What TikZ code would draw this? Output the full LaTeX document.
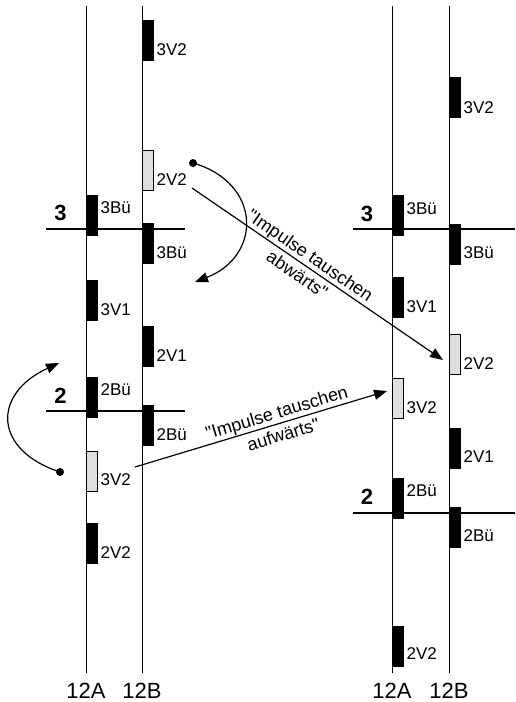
\documentclass[tikz,border=0pt]{standalone}
\usepackage{fontspec}
\setmainfont{Liberation Sans}[Ligatures=TeXOff]
\usetikzlibrary{arrows.meta}
\begin{document}
\begin{tikzpicture}[x=1pt,y=-1pt,
  rail/.style={line width=0.9pt},
  bar/.style={line width=2pt},
  blk/.style={draw=black, fill=black, line width=0.6pt, minimum width=11.5pt, minimum height=40pt, inner sep=0pt, outer sep=0pt, anchor=north west},
  gblk/.style={blk, fill=black!13},
  lbl/.style={font=\fontsize{17}{20}\selectfont, inner sep=0pt, anchor=base west},
  big/.style={font=\fontsize{22}{26}\selectfont, inner sep=0pt, anchor=base},
  num/.style={font=\bfseries\fontsize{22}{26}\selectfont, inner sep=0pt, anchor=base},
  arr/.style={line width=1.2pt, -{Triangle[length=13pt,width=10pt]}},
  note/.style={font=\fontsize{18}{23}\selectfont, align=center, inner sep=0pt},
]
\useasboundingbox (0,0) rectangle (515,702);

% ---------------- left diagram ----------------
\coordinate (lAt) at (86,6);  \coordinate (lAb) at (86,673);
\coordinate (lBt) at (142,6); \coordinate (lBb) at (142,673);
\draw[rail] (lAt) -- (lAb);
\draw[rail] (lBt) -- (lBb);
\coordinate (l3s) at (46,229); \coordinate (l3e) at (185,229);
\coordinate (l2s) at (46,411); \coordinate (l2e) at (185,411);
\draw[bar] (l3s) -- (l3e);
\draw[bar] (l2s) -- (l2e);
\node[num] (lN3) at (60.5,220) {3};
\node[num] (lN2) at (60.5,403) {2};

\node[blk]  (lB3V2) at (142,20) {};   \node[lbl] (tlB3V2) at (156.5,55) {3V2};
\node[gblk] (lB2V2) at (142,150) {};  \node[lbl] (tlB2V2) at (156.5,185) {2V2};
\node[blk]  (lA3Bu) at (86,195) {};   \node[lbl] (tlA3Bu) at (100.5,213) {3Bü};
\node[blk]  (lB3Bu) at (142,223) {};  \node[lbl] (tlB3Bu) at (156.5,258) {3Bü};
\node[blk]  (lA3V1) at (86,280) {};   \node[lbl] (tlA3V1) at (100.5,315) {3V1};
\node[blk]  (lB2V1) at (142,326) {};  \node[lbl] (tlB2V1) at (156.5,361) {2V1};
\node[blk]  (lA2Bu) at (86,377) {};   \node[lbl] (tlA2Bu) at (100.5,395) {2Bü};
\node[blk]  (lB2Bu) at (142,405) {};  \node[lbl] (tlB2Bu) at (156.5,440) {2Bü};
\node[gblk] (lA3V2) at (86,451) {};   \node[lbl] (tlA3V2) at (100.5,485) {3V2};
\node[blk]  (lA2V2) at (86,523) {};   \node[lbl] (tlA2V2) at (100.5,558) {2V2};

\node[big] (l12A) at (86,698) {12A};
\node[big] (l12B) at (142,698) {12B};

% ---------------- right diagram ----------------
\coordinate (rAt) at (392,6);  \coordinate (rAb) at (392,673);
\coordinate (rBt) at (449,6);  \coordinate (rBb) at (449,673);
\draw[rail] (rAt) -- (rAb);
\draw[rail] (rBt) -- (rBb);
\coordinate (r3s) at (353,229); \coordinate (r3e) at (515,229);
\coordinate (r2s) at (353,513); \coordinate (r2e) at (515,513);
\draw[bar] (r3s) -- (r3e);
\draw[bar] (r2s) -- (r2e);
\node[num] (rN3) at (367,221) {3};
\node[num] (rN2) at (367,504) {2};

\node[blk]  (rB3V2) at (449,77) {};   \node[lbl] (trB3V2) at (463.5,113) {3V2};
\node[blk]  (rA3Bu) at (392,195) {};  \node[lbl] (trA3Bu) at (406.5,214) {3Bü};
\node[blk]  (rB3Bu) at (449,224) {};  \node[lbl] (trB3Bu) at (463.5,258) {3Bü};
\node[blk]  (rA3V1) at (392,277) {};  \node[lbl] (trA3V1) at (406.5,312) {3V1};
\node[gblk] (rB2V2) at (449,334) {};  \node[lbl] (trB2V2) at (463.5,369) {2V2};
\node[gblk] (rA3V2) at (392,378) {};  \node[lbl] (trA3V2) at (406.5,413) {3V2};
\node[blk]  (rB2V1) at (449,428) {};  \node[lbl] (trB2V1) at (463.5,462) {2V1};
\node[blk]  (rA2Bu) at (392,478) {};  \node[lbl] (trA2Bu) at (406.5,496) {2Bü};
\node[blk]  (rB2Bu) at (449,507) {};  \node[lbl] (trB2Bu) at (463.5,541) {2Bü};
\node[blk]  (rA2V2) at (392,626) {};  \node[lbl] (trA2V2) at (406.5,659) {2V2};

\node[big] (r12A) at (392,698) {12A};
\node[big] (r12B) at (449,698) {12B};

% ---------------- arrows ----------------
\coordinate (dnS) at (192,188);
\coordinate (dnE) at (443,360);
\draw[arr] (dnS) -- (dnE)
  node[note, pos=0.446, rotate=-34.4] (dnT) {"Impulse tauschen\\abwärts"};

\coordinate (upS) at (135,467);
\coordinate (upE) at (387,391);
\draw[arr] (upS) -- (upE)
  node[note, pos=0.575, rotate=16.8] (upT) {"Impulse tauschen\\aufwärts"};

\coordinate (c1s) at (193,163);
\coordinate (c1e) at (195,282);
\fill (c1s) circle (4pt);
\draw[arr] (c1s) .. controls (262,183) and (262,256) .. (c1e);

\coordinate (c2s) at (60,472);
\coordinate (c2e) at (59,363);
\fill (c2s) circle (4pt);
\draw[arr] (c2s) .. controls (-7,450) and (-8,394) .. (c2e);
\end{tikzpicture}
\end{document}
